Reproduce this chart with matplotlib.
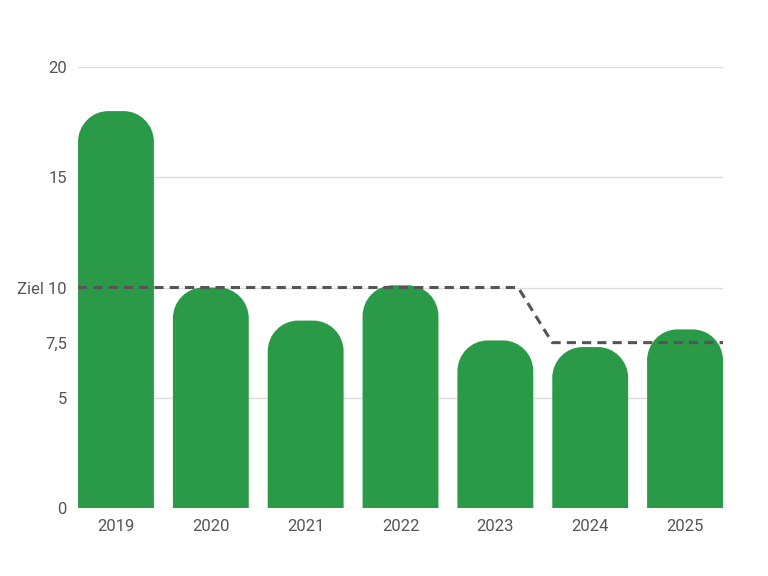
import matplotlib.pyplot as plt
from matplotlib.path import Path
from matplotlib.patches import PathPatch

plt.rcParams['font.family'] = ['Roboto', 'DejaVu Sans']

years = ["2019", "2020", "2021", "2022", "2023", "2024", "2025"]
values = [18.0, 10.0, 8.5, 10.1, 7.6, 7.3, 8.1]
target_x = [-0.4, 4.24, 4.6, 6.4]
target_y = [10, 10, 7.5, 7.5]
yticks = [0, 5, 7.5, 10, 15, 20]
ylabels = ["0", "5", "7,5", "Ziel 10", "15", "20"]

fig = plt.figure(figsize=(7.68, 5.76), dpi=100)
ax = fig.add_axes([0.1016, 0.118, 0.8398, 0.7657])

def rounded_bar(ax, x, h, w, rx, ry, color):
    k = 0.5523
    l, r = x - w / 2, x + w / 2
    verts = [(l, 0), (l, h - ry),
             (l, h - ry + k * ry), (l + rx - k * rx, h), (l + rx, h),
             (r - rx, h),
             (r - rx + k * rx, h), (r, h - ry + k * ry), (r, h - ry),
             (r, 0), (l, 0)]
    codes = [Path.MOVETO, Path.LINETO,
             Path.CURVE4, Path.CURVE4, Path.CURVE4,
             Path.LINETO,
             Path.CURVE4, Path.CURVE4, Path.CURVE4,
             Path.LINETO, Path.CLOSEPOLY]
    ax.add_patch(PathPatch(Path(verts, codes), facecolor=color, edgecolor='none', zorder=2))

for i, v in enumerate(values):
    rounded_bar(ax, i, v, 0.8, 0.32, 1.4, '#2b9a48')

ax.plot(target_x, target_y, color='#555555', lw=2.2, ls=(0, (3, 2)), zorder=3)

ax.set_xlim(-0.4, 6.4)
ax.set_ylim(0, 20)
ax.set_xticks(range(len(years)))
ax.set_xticklabels(years)
ax.set_yticks(yticks)
ax.set_yticklabels(ylabels)
for y in [0, 5, 10, 15, 20]:
    ax.axhline(y, color='#dddddd', lw=1, zorder=1)
for s in ax.spines.values():
    s.set_visible(False)
ax.tick_params(length=0, colors='#555555', labelsize=12, pad=8)

fig.savefig('out.png', dpi=100)
